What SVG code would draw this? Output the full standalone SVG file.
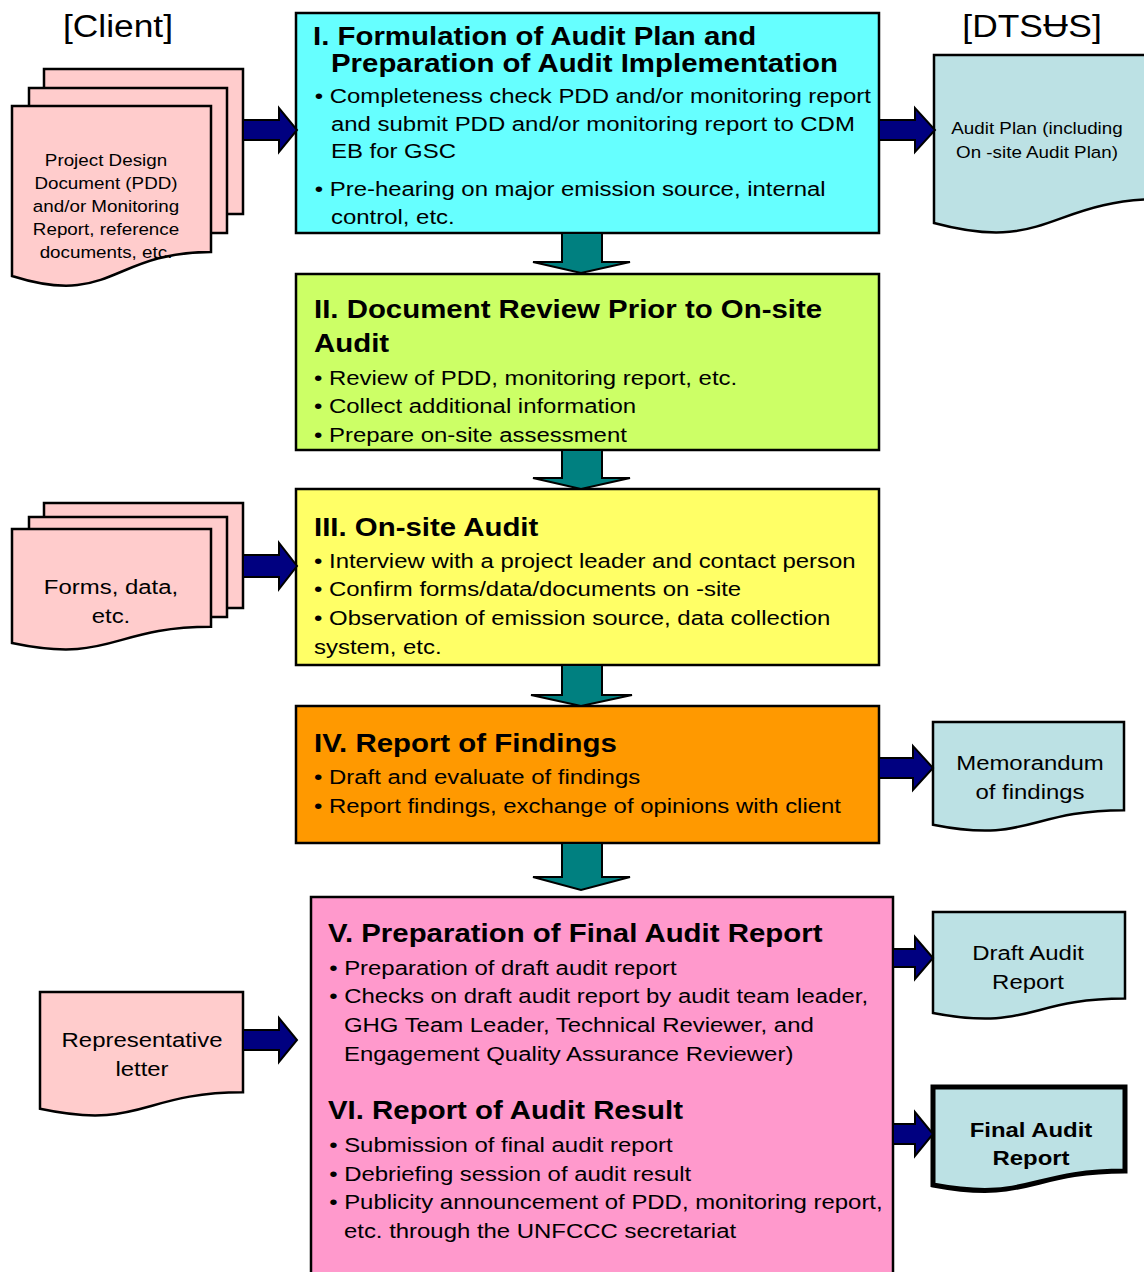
<svg xmlns="http://www.w3.org/2000/svg" width="1144" height="1272" viewBox="0 0 1144 1272">
<style>
text{font-family:"Liberation Sans",Arial,"DejaVu Sans",sans-serif;fill:#000}
.box{stroke:#000;stroke-width:2.5}
.pink{fill:#FFCCCC;stroke:#000;stroke-width:2.5}
.blue{fill:#BCE1E4;stroke:#000;stroke-width:2.5}
.ta{fill:#008080;stroke:#000;stroke-width:2}
.ba{fill:#000080;stroke:#000;stroke-width:2}
.t{font-size:25.8px;font-weight:bold}
.b{font-size:21px}
.d{font-size:16.5px;text-anchor:middle}
.m{font-size:21px;text-anchor:middle}
.mb{font-size:21px;text-anchor:middle;font-weight:bold}
.h{font-size:31px;text-anchor:middle}
</style>
<rect width="1144" height="1272" fill="#fff"/>

<g id="hdr-client" transform="translate(118 0) scale(1.14 1)"><text class="h" x="0" y="37">[Client]</text></g>
<g id="hdr-dtsus" transform="translate(1032 0) scale(1.14 1)"><text class="h" x="0" y="37">[DTSɄS]</text></g>

<g id="doc-pdd">
<rect class="pink" x="44" y="69" width="199" height="145"/>
<rect class="pink" x="29" y="88" width="198" height="145"/>
<path class="pink" d="M12,106 H211 V252 C111.5,252 111.5,307.6 12,276 Z"/>
<g transform="translate(106 0) scale(1.14 1)">
<text class="d" x="0" y="166">Project Design</text>
<text class="d" x="0" y="189">Document (PDD)</text>
<text class="d" x="0" y="212">and/or Monitoring</text>
<text class="d" x="0" y="235">Report, reference</text>
<text class="d" x="0" y="258">documents, etc.</text>
</g>
</g>

<g id="doc-forms">
<rect class="pink" x="44" y="503" width="199" height="105"/>
<rect class="pink" x="29" y="517" width="198" height="100"/>
<path class="pink" d="M12,529 H211 V626.8 C111.5,626.8 111.5,664.1 12,643 Z"/>
<g transform="translate(111 0) scale(1.14 1)">
<text class="m" x="0" y="594">Forms, data,</text>
<text class="m" x="0" y="623">etc.</text>
</g>
</g>

<g id="doc-letter">
<path class="pink" d="M40,992 H243 V1092.3 C141.5,1092.3 141.5,1130.4 40,1108.8 Z"/>
<g transform="translate(142 0) scale(1.14 1)">
<text class="m" x="0" y="1047">Representative</text>
<text class="m" x="0" y="1076">letter</text>
</g>
</g>

<g id="doc-plan">
<path class="blue" d="M934,55 H1164 V199 C1049,199 1049,254 934,223 Z"/>
<g transform="translate(1037 0) scale(1.14 1)">
<text class="d" x="0" y="134">Audit Plan (including</text>
<text class="d" x="0" y="158">On -site Audit Plan)</text>
</g>
</g>

<g id="doc-memo">
<path class="blue" d="M933,722 H1124 V810.2 C1028.5,810.2 1028.5,843.8 933,824.7 Z"/>
<g transform="translate(1030 0) scale(1.14 1)">
<text class="m" x="0" y="770">Memorandum</text>
<text class="m" x="0" y="799">of findings</text>
</g>
</g>

<g id="doc-draft">
<path class="blue" d="M933,912 H1125 V998.6 C1029,998.6 1029,1031.6 933,1012.9 Z"/>
<g transform="translate(1028 0) scale(1.14 1)">
<text class="m" x="0" y="960">Draft Audit</text>
<text class="m" x="0" y="989">Report</text>
</g>
</g>

<g id="doc-final">
<path class="blue" style="stroke-width:5" d="M933,1087 H1125 V1171 C1029,1171 1029,1203 933,1185 Z"/>
<g transform="translate(1031 0) scale(1.14 1)">
<text class="mb" x="0" y="1137">Final Audit</text>
<text class="mb" x="0" y="1165">Report</text>
</g>
</g>

<g id="step1">
<rect class="box" fill="#66FFFF" x="296" y="13" width="583" height="220"/>
<g transform="translate(313 0) scale(1.14 1)">
<text class="t" x="0" y="45">I. Formulation of Audit Plan and</text>
<text class="t" x="15.8" y="72">Preparation of Audit Implementation</text>
<text class="b" x="1.5" y="103">• Completeness check PDD and/or monitoring report</text>
<text class="b" x="15.8" y="131">and submit PDD and/or monitoring report to CDM</text>
<text class="b" x="15.8" y="158">EB for GSC</text>
<text class="b" x="1.5" y="196">• Pre-hearing on major emission source, internal</text>
<text class="b" x="15.8" y="224">control, etc.</text>
</g>
</g>

<g id="step2">
<rect class="box" fill="#CCFF66" x="296" y="274" width="583" height="176"/>
<g transform="translate(314 0) scale(1.14 1)">
<text class="t" x="0" y="318">II. Document Review Prior to On-site</text>
<text class="t" x="0" y="352">Audit</text>
<text class="b" x="0" y="385">• Review of PDD, monitoring report, etc.</text>
<text class="b" x="0" y="413">• Collect additional information</text>
<text class="b" x="0" y="442">• Prepare on-site assessment</text>
</g>
</g>

<g id="step3">
<rect class="box" fill="#FFFF66" x="296" y="489" width="583" height="176"/>
<g transform="translate(314 0) scale(1.14 1)">
<text class="t" x="0" y="536">III. On-site Audit</text>
<text class="b" x="0" y="568">• Interview with a project leader and contact person</text>
<text class="b" x="0" y="596">• Confirm forms/data/documents on -site</text>
<text class="b" x="0" y="625">• Observation of emission source, data collection</text>
<text class="b" x="0" y="654">system, etc.</text>
</g>
</g>

<g id="step4">
<rect class="box" fill="#FF9900" x="296" y="706" width="583" height="137"/>
<g transform="translate(314 0) scale(1.14 1)">
<text class="t" x="0" y="752">IV. Report of Findings</text>
<text class="b" x="0" y="784">• Draft and evaluate of findings</text>
<text class="b" x="0" y="813">• Report findings, exchange of opinions with client</text>
</g>
</g>

<g id="step5-6">
<rect class="box" fill="#FF99CC" x="311" y="897" width="582" height="390"/>
<g transform="translate(328 0) scale(1.14 1)">
<text class="t" x="0" y="942">V. Preparation of Final Audit Report</text>
<text class="b" x="1" y="975">• Preparation of draft audit report</text>
<text class="b" x="1" y="1003">• Checks on draft audit report by audit team leader,</text>
<text class="b" x="14" y="1032">GHG Team Leader, Technical Reviewer, and</text>
<text class="b" x="14" y="1061">Engagement Quality Assurance Reviewer)</text>
<text class="t" x="0" y="1119">VI. Report of Audit Result</text>
<text class="b" x="1" y="1152">• Submission of final audit report</text>
<text class="b" x="1" y="1181">• Debriefing session of audit result</text>
<text class="b" x="1" y="1209">• Publicity announcement of PDD, monitoring report,</text>
<text class="b" x="14" y="1238">etc. through the UNFCCC secretariat</text>
</g>
</g>

<g id="connectors">
<polygon class="ta" points="562,233 602,233 602,262 630,262 581,273 533,262 562,262"/>
<polygon class="ta" points="562,450 602,450 602,478 630,478 581,489 533,478 562,478"/>
<polygon class="ta" points="562,665 602,665 602,695 632,695 581,706 531,695 562,695"/>
<polygon class="ta" points="562,843 602,843 602,877 630,877 581,890 533,877 562,877"/>
<polygon class="ba" points="243,120 279,120 279,108 297,130 279,152 279,140 243,140"/>
<polygon class="ba" points="879,120 915,120 915,108 935,130 915,152 915,140 879,140"/>
<polygon class="ba" points="243,555 279,555 279,543 297,566 279,589 279,577 243,577"/>
<polygon class="ba" points="879,758 913,758 913,746 933,768 913,790 913,778 879,778"/>
<polygon class="ba" points="893,949 915,949 915,937 933,958 915,979 915,967 893,967"/>
<polygon class="ba" points="243,1030 279,1030 279,1018 297,1040 279,1062 279,1050 243,1050"/>
<polygon class="ba" points="893,1124 915,1124 915,1112 933,1134 915,1156 915,1144 893,1144"/>
</g>
</svg>
